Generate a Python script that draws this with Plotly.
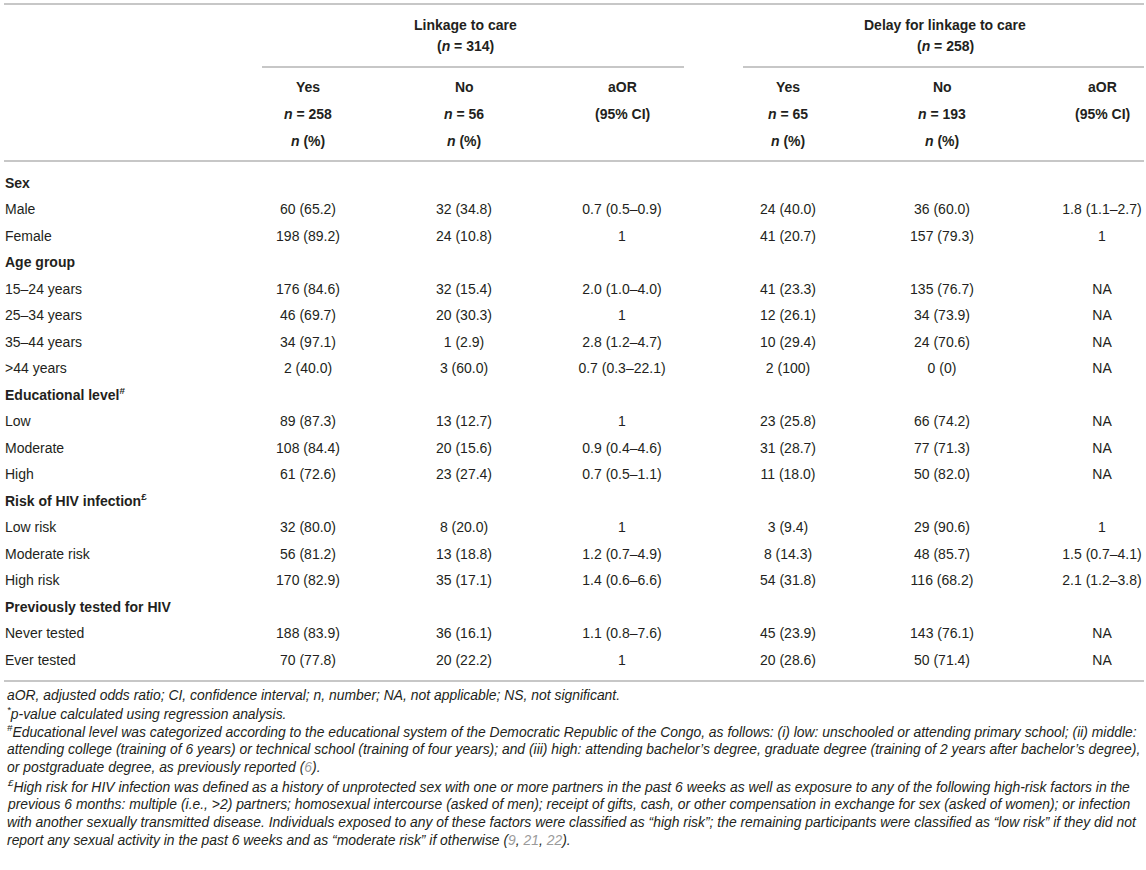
import plotly.graph_objects as go

# ---- table data ----
groups = ["Sex", "Age group", "Educational level<sup>#</sup>",
          "Risk of HIV infection<sup>£</sup>", "Previously tested for HIV"]
categories = [
    ["Male", "Female"],
    ["15–24 years", "25–34 years", "35–44 years", ">44 years"],
    ["Low", "Moderate", "High"],
    ["Low risk", "Moderate risk", "High risk"],
    ["Never tested", "Ever tested"],
]

link_yes = ["60 (65.2)", "198 (89.2)",
            "176 (84.6)", "46 (69.7)", "34 (97.1)", "2 (40.0)",
            "89 (87.3)", "108 (84.4)", "61 (72.6)",
            "32 (80.0)", "56 (81.2)", "170 (82.9)",
            "188 (83.9)", "70 (77.8)"]
link_no = ["32 (34.8)", "24 (10.8)",
           "32 (15.4)", "20 (30.3)", "1 (2.9)", "3 (60.0)",
           "13 (12.7)", "20 (15.6)", "23 (27.4)",
           "8 (20.0)", "13 (18.8)", "35 (17.1)",
           "36 (16.1)", "20 (22.2)"]
link_aor = ["0.7 (0.5–0.9)", "1",
            "2.0 (1.0–4.0)", "1", "2.8 (1.2–4.7)", "0.7 (0.3–22.1)",
            "1", "0.9 (0.4–4.6)", "0.7 (0.5–1.1)",
            "1", "1.2 (0.7–4.9)", "1.4 (0.6–6.6)",
            "1.1 (0.8–7.6)", "1"]
delay_yes = ["24 (40.0)", "41 (20.7)",
             "41 (23.3)", "12 (26.1)", "10 (29.4)", "2 (100)",
             "23 (25.8)", "31 (28.7)", "11 (18.0)",
             "3 (9.4)", "8 (14.3)", "54 (31.8)",
             "45 (23.9)", "20 (28.6)"]
delay_no = ["36 (60.0)", "157 (79.3)",
            "135 (76.7)", "34 (73.9)", "24 (70.6)", "0 (0)",
            "66 (74.2)", "77 (71.3)", "50 (82.0)",
            "29 (90.6)", "48 (85.7)", "116 (68.2)",
            "143 (76.1)", "50 (71.4)"]
delay_aor = ["1.8 (1.1–2.7)", "1",
             "NA", "NA", "NA", "NA",
             "NA", "NA", "NA",
             "1", "1.5 (0.7–4.1)", "2.1 (1.2–3.8)",
             "NA", "NA"]

span_headers = [["Linkage to care", "(<i>n</i> = 314)"],
                ["Delay for linkage to care", "(<i>n</i> = 258)"]]
col_headers = [["Yes", "<i>n</i> = 258", "<i>n</i> (%)"],
               ["No", "<i>n</i> = 56", "<i>n</i> (%)"],
               ["aOR", "(95% CI)"],
               ["Yes", "<i>n</i> = 65", "<i>n</i> (%)"],
               ["No", "<i>n</i> = 193", "<i>n</i> (%)"],
               ["aOR", "(95% CI)"]]

ref = "<span style='color:#9a9a9a'>%s</span>"
footnotes = [
    "aOR, adjusted odds ratio; CI, confidence interval; n, number; NA, not applicable; NS, not significant.",
    "<sup>*</sup>p-value calculated using regression analysis.",
    "<sup>#</sup>Educational level was categorized according to the educational system of the Democratic Republic of the Congo, as follows: (i) low: unschooled or attending primary school; (ii) middle:",
    "attending college (training of 6 years) or technical school (training of four years); and (iii) high: attending bachelor’s degree, graduate degree (training of 2 years after bachelor’s degree),",
    "or postgraduate degree, as previously reported (" + ref % "6" + ").",
    "<sup>£</sup>High risk for HIV infection was defined as a history of unprotected sex with one or more partners in the past 6 weeks as well as exposure to any of the following high-risk factors in the",
    "previous 6 months: multiple (i.e., >2) partners; homosexual intercourse (asked of men); receipt of gifts, cash, or other compensation in exchange for sex (asked of women); or infection",
    "with another sexually transmitted disease. Individuals exposed to any of these factors were classified as “high risk”; the remaining participants were classified as “low risk” if they did not",
    "report any sexual activity in the past 6 weeks and as “moderate risk” if otherwise (" + ref % "9" + ", " + ref % "21" + ", " + ref % "22" + ").",
]

# ---- layout geometry (pixels) ----
W, H = 1146, 870
FONT = "Liberation Sans, Arial, sans-serif"
TXT = "#231f20"
RULE = "#b4b4b4"
col_x = [308, 464, 622, 788, 942, 1102]
row0, row_step = 184, 26.5
label_x = 5

fig = go.Figure()

# build row list: group header rows + category rows
labels, bold, cat_rows = [], [], []
for g, cats in zip(groups, categories):
    labels.append(g)
    bold.append(True)
    for c in cats:
        cat_rows.append(len(labels))
        labels.append(c)
        bold.append(False)

row_y = [row0 + i * row_step for i in range(len(labels))]

# row labels
fig.add_trace(go.Scatter(
    x=[label_x] * len(labels), y=row_y,
    text=[f"<b>{t}</b>" if b else t for t, b in zip(labels, bold)],
    mode="text", textposition="middle right",
    textfont=dict(family=FONT, size=14, color=TXT),
    hoverinfo="skip", showlegend=False, cliponaxis=False,
))

# data columns
cat_y = [row_y[i] for i in cat_rows]
for cx, col in zip(col_x, [link_yes, link_no, link_aor, delay_yes, delay_no, delay_aor]):
    fig.add_trace(go.Scatter(
        x=[cx] * len(col), y=cat_y, text=col,
        mode="text", textposition="middle center",
        textfont=dict(family=FONT, size=14, color=TXT),
        hoverinfo="skip", showlegend=False, cliponaxis=False,
    ))

# headers
span_y = [25, 46]
for cx, lines in zip([(col_x[0] + col_x[2]) / 2, (col_x[3] + col_x[5]) / 2], span_headers):
    for yy, t in zip(span_y, lines):
        fig.add_annotation(x=cx, y=yy, text=f"<b>{t}</b>", showarrow=False,
                           font=dict(family=FONT, size=14, color=TXT),
                           xanchor="center", yanchor="middle")
head_y = [87, 114, 141]
for cx, lines in zip(col_x, col_headers):
    for yy, t in zip(head_y, lines):
        fig.add_annotation(x=cx, y=yy, text=f"<b>{t}</b>", showarrow=False,
                           font=dict(family=FONT, size=14, color=TXT),
                           xanchor="center", yanchor="middle")

# rules
def hline(x0, x1, y, w=1.6):
    fig.add_shape(type="line", x0=x0, x1=x1, y0=y, y1=y, xref="x", yref="y",
                  line=dict(color=RULE, width=w))

hline(4, 1144, 4)
hline(262, 684, 67)
hline(743, 1144, 67)
hline(4, 1144, 161)
hline(4, 1144, 681)

# footnotes
foot_y0, foot_step = 695, 18.1
for i, t in enumerate(footnotes):
    fig.add_annotation(x=label_x, y=foot_y0 + i * foot_step, text=f"<i>{t}</i>",
                       showarrow=False, xanchor="left", yanchor="middle",
                       font=dict(family=FONT, size=13.9, color=TXT))

fig.update_xaxes(range=[0, W], visible=False, fixedrange=True)
fig.update_yaxes(range=[H, 0], visible=False, fixedrange=True)
fig.update_layout(
    width=W, height=H,
    margin=dict(l=0, r=0, t=0, b=0),
    paper_bgcolor="white", plot_bgcolor="white",
)

fig.write_html("out.html", config={"displayModeBar": False},
               post_script="document.body.style.margin='0px';")
